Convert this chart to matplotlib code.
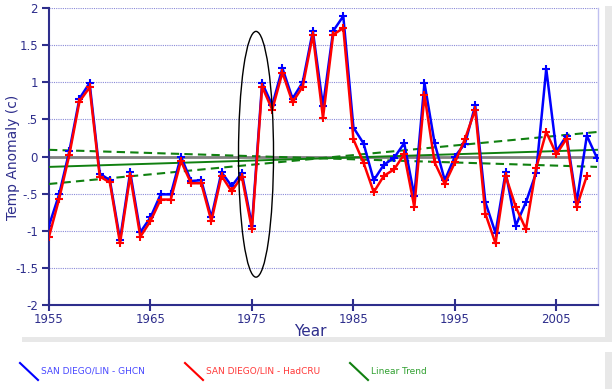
import matplotlib
matplotlib.use("Agg")
import matplotlib.pyplot as plt
from matplotlib.patches import Rectangle, Ellipse
from matplotlib.lines import Line2D
import numpy as np

years_ghcn = list(range(1955, 2010))
ghcn = [-0.93, -0.51, 0.07, 0.78, 0.99, -0.23, -0.32, -1.12, -0.21, -1.02,
        -0.82, -0.51, -0.51, 0.00, -0.33, -0.32, -0.82, -0.21, -0.40, -0.22,
        -0.93, 0.99, 0.69, 1.19, 0.78, 1.00, 1.69, 0.68, 1.69, 1.89,
        0.39, 0.175, -0.32, -0.11, -0.02, 0.18, -0.53, 0.99, 0.18, -0.32,
        0.00, 0.175, 0.69, -0.615, -1.03, -0.21, -0.93, -0.615, -0.22, 1.18,
        0.07, 0.28, -0.615, 0.28, -0.02]
years_cru = list(range(1955, 2009))
hadcru = [-1.08, -0.57, 0.02, 0.74, 0.93, -0.27, -0.35, -1.17, -0.26, -1.08,
          -0.87, -0.58, -0.58, -0.06, -0.36, -0.36, -0.87, -0.26, -0.47, -0.27,
          -0.98, 0.94, 0.63, 1.13, 0.73, 0.94, 1.64, 0.52, 1.64, 1.73,
          0.23, -0.085, -0.48, -0.26, -0.175, 0.03, -0.68, 0.83, -0.08, -0.37,
          -0.08, 0.24, 0.63, -0.77, -1.17, -0.26, -0.68, -0.98, -0.16, 0.33,
          0.03, 0.24, -0.68, -0.26]
trend_years = [1955, 2009]
trend = [-0.14, 0.09]
trend_a = [0.09, -0.14]
trend_b = [-0.37, 0.33]
y_ticks = [-2, -1.5, -1, -0.5, 0, 0.5, 1, 1.5, 2]
y_tick_labels = ["-2", "-1.5", "-1", "-.5", "0", ".5", "1", "1.5", "2"]
x_ticks = [1955, 1965, 1975, 1985, 1995, 2005]

W, H = 613, 389
fig = plt.figure(figsize=(W / 100, H / 100), dpi=100)
fig.patch.set_facecolor("white")

def px(x, y, w, h, z, **kw):
    # rectangle in pixel coordinates (top-left origin)
    r = Rectangle((x / W, 1 - (y + h) / H), w / W, h / H, transform=fig.transFigure,
                  zorder=z, **kw)
    fig.patches.append(r)

# panel shadows
px(22, 6, 590, 336, -3, facecolor="#e8e8e8", edgecolor="none")
px(0, 0, 605, 337, -2, facecolor="white", edgecolor="none")
px(22, 352, 590, 40, -3, facecolor="#e8e8e8", edgecolor="none")
px(0, 346, 605, 45, -2, facecolor="white", edgecolor="none")

navy = "#2e2e8c"
ax = fig.add_axes([49 / W, 1 - 305 / H, (598 - 49) / W, (305 - 8) / H])
ax.set_zorder(1)
ax.set_facecolor("none")
ax.set_xlim(1955, 2009.1)
ax.set_ylim(-2, 2)

for v in y_ticks:
    if v != 0:
        ax.axhline(v, color="#8a8ad8", lw=0.8, ls=(0, (1, 1)), zorder=1)
ax.axhline(0, color="#808080", lw=2, zorder=2)

ax.plot(trend_years, trend_a, color="#108010", lw=1.5, ls=(0, (4, 2.5)), zorder=3)
ax.plot(trend_years, trend_b, color="#108010", lw=1.5, ls=(0, (4, 2.5)), zorder=3)
ax.plot(trend_years, trend, color="#108010", lw=1.4, zorder=3)

ax.plot(years_ghcn, ghcn, color="#0000ff", lw=1.8, marker="+", ms=5.5, mew=1.5, zorder=4)
ax.plot(years_cru, hadcru, color="#ff0000", lw=1.8, marker="+", ms=5.5, mew=1.5, zorder=5)

ax.add_patch(Ellipse((1975.4, 0.03), 3.45, 3.31, fill=False, edgecolor="black", lw=1, zorder=6))

ax.set_yticks(y_ticks)
ax.set_yticklabels(y_tick_labels)
ax.set_xticks(x_ticks)
ax.spines["top"].set_visible(False)
ax.spines["right"].set_color("#c0c0f0")
ax.spines["right"].set_linewidth(1)
ax.spines["left"].set_color(navy)
ax.spines["left"].set_linewidth(1.5)
ax.spines["bottom"].set_color(navy)
ax.spines["bottom"].set_linewidth(1.5)
ax.tick_params(axis="y", direction="out", length=5, width=1.5, color=navy,
               labelcolor=navy, labelsize=8.5, pad=3)
ax.tick_params(axis="x", direction="inout", length=8, width=1.5, color=navy,
               labelcolor=navy, labelsize=8.5, pad=2)
ax.set_xlabel("Year", color=navy, fontsize=11)
ax.xaxis.set_label_coords((310 - 49) / (598 - 49), -(331 - 305) / (305 - 8))
ax.set_ylabel("Temp Anomaly (c)", color=navy, fontsize=10)
ax.yaxis.set_label_coords(-(49 - 13) / (598 - 49), (305 - 157) / (305 - 8))
ax.xaxis.label.set_va("center")
ax.yaxis.label.set_va("center")

# legend
entries = [("SAN DIEGO/LIN - GHCN", "#0000ff", "#4848ff", 20),
           ("SAN DIEGO/LIN - HadCRU", "#ff0000", "#ff3838", 185),
           ("Linear Trend", "#108010", "#30a030", 350)]
for label, lc, tc, x0 in entries:
    fig.lines.append(Line2D([x0 / W, (x0 + 18) / W], [1 - 363 / H, 1 - 380 / H],
                            transform=fig.transFigure, color=lc, lw=1.5, zorder=3))
    fig.text((x0 + 21) / W, 1 - 371 / H, label, color=tc, fontsize=6.5,
             va="center", ha="left", zorder=3)

fig.savefig("out.png", dpi=100)
